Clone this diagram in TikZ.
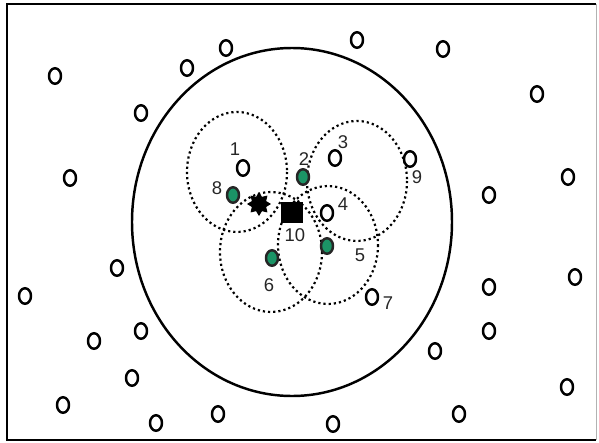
\documentclass[tikz,border=0pt]{standalone}
\usepackage{fontspec}
\setmainfont{Liberation Sans}
\usepackage{tikz}
\usetikzlibrary{shapes.geometric}
\definecolor{nodegreen}{HTML}{1B9466}

\begin{document}
\begin{tikzpicture}[
  x=0.02cm,y=-0.02cm,
  font=\fontsize{10.5}{12}\selectfont,
  sensor/.style={ellipse,draw=black,line width=1.4pt,fill=white,inner sep=0pt,minimum width=0.24cm,minimum height=0.31cm},
  active/.style={sensor,fill=nodegreen,draw=black!85},
  sinkbox/.style={rectangle,fill=black,inner sep=0pt,minimum width=0.46cm,minimum height=0.42cm},
  target/.style={star,star points=8,star point ratio=1.55,fill=black,inner sep=0pt,minimum size=0.48cm},
  coverage/.style={line width=1.25pt,dash pattern=on 1.25pt off 1.7pt},
  region/.style={line width=1.4pt},
  frm/.style={line width=1.4pt},
  lbl/.style={inner sep=0pt,text=black!85},
]
\useasboundingbox (0,0) rectangle (599,443);
\draw[frm] (596,4) -- (7,4) -- (7,440) -- (596,440);
\draw[line width=0.4pt,black!30] (596,4) -- (596,440);

\draw[region] (292,222) ellipse [x radius=160,y radius=174];

\draw[coverage] (237,172) ellipse [x radius=50,y radius=60];
\draw[coverage] (357,181) ellipse [x radius=50,y radius=60];
\draw[coverage] (328,245) ellipse [x radius=50,y radius=59];
\draw[coverage] (271,252) ellipse [x radius=51,y radius=60];

\node[sensor] (o1) at (55,76) {};
\node[sensor] (o2) at (187,68) {};
\node[sensor] (o3) at (226,48) {};
\node[sensor] (o4) at (357,40) {};
\node[sensor] (o5) at (443,49) {};
\node[sensor] (o6) at (537,94) {};
\node[sensor] (o7) at (141,113) {};
\node[sensor] (o8) at (70,178) {};
\node[sensor] (o9) at (568,177) {};
\node[sensor] (o10) at (489,195) {};
\node[sensor] (o11) at (117,268) {};
\node[sensor] (o12) at (25,296) {};
\node[sensor] (o13) at (575,277) {};
\node[sensor] (o14) at (489,287) {};
\node[sensor] (o15) at (141,331) {};
\node[sensor] (o16) at (94,341) {};
\node[sensor] (o17) at (489,331) {};
\node[sensor] (o18) at (435,351) {};
\node[sensor] (o19) at (132,378) {};
\node[sensor] (o20) at (567,387) {};
\node[sensor] (o21) at (63,405) {};
\node[sensor] (o22) at (156,423) {};
\node[sensor] (o23) at (218,414) {};
\node[sensor] (o24) at (333,424) {};
\node[sensor] (o25) at (459,414) {};

\node[sensor] (n1) at (243,168) {};
\node[active] (n2) at (303,177) {};
\node[sensor] (n3) at (335,158) {};
\node[sensor] (n4) at (327,213) {};
\node[active] (n5) at (327,246) {};
\node[active] (n6) at (272,258) {};
\node[sensor] (n7) at (372,297) {};
\node[active] (n8) at (233,195) {};
\node[sensor] (n9) at (410,159) {};
\node[sinkbox] (n10) at (292,212) {};
\node[target] (tgt) at (259,204) {};

\node[lbl] (l1) at (235,149) {1};
\node[lbl] (l2) at (304,159) {2};
\node[lbl] (l3) at (343,142) {3};
\node[lbl] (l4) at (343,204) {4};
\node[lbl] (l5) at (360,255) {5};
\node[lbl] (l6) at (269,285) {6};
\node[lbl] (l7) at (388,303) {7};
\node[lbl] (l8) at (217,188) {8};
\node[lbl] (l9) at (417,177) {9};
\node[lbl] (l10) at (295,235) {10};
\end{tikzpicture}
\end{document}
